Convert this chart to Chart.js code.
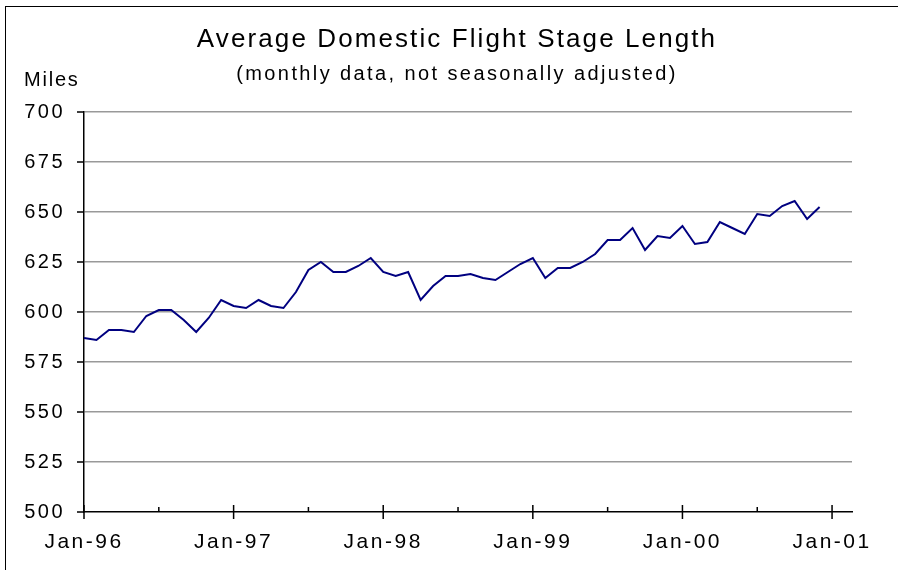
<!DOCTYPE html>
<html>
<head>
<meta charset="utf-8">
<title>Average Domestic Flight Stage Length</title>
<script src="https://cdn.jsdelivr.net/npm/chart.js@4.4.0/dist/chart.umd.min.js"></script>
<style>
  html, body { margin: 0; padding: 0; background: #fff; overflow: hidden; }
  #wrap { position: relative; width: 898px; height: 570px; overflow: hidden; }
  #frame { position: absolute; left: 5px; top: 6px; width: 1000px; height: 1000px;
           border-left: 1.5px solid #000; border-top: 1.5px solid #000; }
  canvas { position: absolute; left: 0; top: 0; }
</style>
</head>
<body>
<div id="wrap">
  <div id="frame"></div>
  <canvas id="chart" width="898" height="570"></canvas>
</div>
<script>
  // x tick labels, one per January (month index 0, 12, 24 ...)
  const yearLabels = ['Jan-96', 'Jan-97', 'Jan-98', 'Jan-99', 'Jan-00', 'Jan-01'];
  const yTicks = [500, 525, 550, 575, 600, 625, 650, 675, 700];

  // average stage length in miles, monthly from Jan-96
  const stageLength = [
    587, 586, 591, 591, 590, 598, 601, 601, 596, 590, 597, 606,   // 1996
    603, 602, 606, 603, 602, 610, 621, 625, 620, 620, 623, 627,   // 1997
    620, 618, 620, 606, 613, 618, 618, 619, 617, 616, 620, 624,   // 1998
    627, 617, 622, 622, 625, 629, 636, 636, 642, 631, 638, 637,   // 1999
    643, 634, 635, 645, 642, 639, 649, 648, 653, 655.5, 646.5, 652.5  // 2000
  ];

  const FONT = "'Liberation Sans', Arial, Helvetica, sans-serif";
  const TICK_SPACING = '2.5px';

  // canvas resets wipe letterSpacing, so put it back before layout and draw
  const spacing = {
    id: 'spacing',
    beforeLayout(chart) { chart.ctx.letterSpacing = TICK_SPACING; },
    beforeDraw(chart) { chart.ctx.letterSpacing = TICK_SPACING; }
  };

  function drawText(ctx, txt, x, y, size, ls, align) {
    ctx.save();
    ctx.font = size + 'px ' + FONT;
    ctx.letterSpacing = ls;
    ctx.fillStyle = '#000';
    ctx.textAlign = align;
    ctx.textBaseline = 'alphabetic';
    ctx.fillText(txt, x, y);
    ctx.restore();
  }

  const decor = {
    id: 'decor',
    afterDraw(chart) {
      const ctx = chart.ctx;
      const xs = chart.scales.x, ys = chart.scales.y;
      const axisY = ys.getPixelForValue(yTicks[0]);
      const axisX = xs.getPixelForValue(0);

      ctx.save();
      ctx.strokeStyle = '#000';
      ctx.lineWidth = 1.5;
      ctx.beginPath();
      // year ticks cross the axis, half-year ticks sit inside
      xs.ticks.forEach(t => {
        const px = xs.getPixelForValue(t.value);
        if (t.value % 12 === 0) {
          ctx.moveTo(px, axisY - 7);
          ctx.lineTo(px, axisY + 7);
        } else {
          ctx.moveTo(px, axisY - 5);
          ctx.lineTo(px, axisY);
        }
      });
      ys.ticks.forEach(t => {
        const py = ys.getPixelForValue(t.value);
        ctx.moveTo(axisX - 7, py);
        ctx.lineTo(axisX, py);
      });
      ctx.stroke();
      ctx.restore();

      drawText(ctx, 'Average Domestic Flight Stage Length', 457, 47, 26, '2.1px', 'center');
      drawText(ctx, '(monthly data, not seasonally adjusted)', 457, 80, 20, '2.4px', 'center');
      drawText(ctx, 'Miles', 24, 86, 20, '1.8px', 'left');
    }
  };

  new Chart(document.getElementById('chart'), {
    type: 'line',
    data: {
      datasets: [{
        data: stageLength.map((v, i) => ({ x: i, y: v })),
        borderColor: '#000080',
        borderWidth: 2,
        pointRadius: 0,
        tension: 0,
        fill: false
      }]
    },
    options: {
      responsive: false,
      animation: false,
      events: [],
      layout: { padding: { left: 0, top: 112, right: 46, bottom: 8 } },
      plugins: { legend: { display: false }, tooltip: { enabled: false } },
      scales: {
        x: {
          type: 'linear',
          min: 0,
          max: 61.6,
          afterFit(s) { s.height = 50; },
          grid: { display: false, drawTicks: false },
          border: { display: true, color: '#000', width: 1.5 },
          ticks: {
            stepSize: 6,
            includeBounds: false,
            autoSkip: false,
            maxRotation: 0,
            padding: 18,
            color: '#000',
            font: { family: FONT, size: 21 },
            callback: v => (v % 12 === 0 ? yearLabels[v / 12] : '')
          }
        },
        y: {
          min: yTicks[0],
          max: yTicks[yTicks.length - 1],
          afterFit(s) { s.width = 84; },
          grid: {
            drawTicks: false,
            color: ctx => (ctx.tick && ctx.tick.value === yTicks[0] ? 'rgba(0,0,0,0)' : '#999999'),
            lineWidth: 1.5
          },
          border: { display: true, color: '#000', width: 1.5 },
          ticks: {
            stepSize: 25,
            padding: 19,
            color: '#000',
            font: { family: FONT, size: 20 }
          }
        }
      }
    },
    plugins: [spacing, decor]
  });
</script>
</body>
</html>
